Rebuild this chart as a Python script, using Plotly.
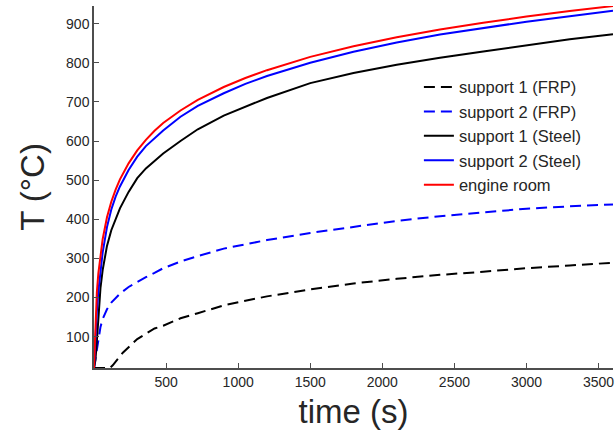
import plotly.graph_objects as go

# ---- data ----
time_s = [0, 10, 20, 30, 45, 60, 90, 120, 150, 180, 240, 300, 360, 420, 480, 600, 720,
          900, 1050, 1200, 1500, 1800, 2100, 2400, 2700, 3000, 3300, 3600]

engine_room = [20, 147, 215, 261, 311, 349, 405, 445, 476, 502, 543, 576, 603, 626, 646,
               678, 705, 738, 761, 781, 815, 842, 865, 885, 902, 918, 932, 945]
support2_steel = [20, 100, 165, 215, 270, 315, 380, 425, 458, 484, 526, 560, 587, 608,
                  627, 662, 690, 722, 746, 766, 800, 828, 852, 872, 889, 905, 919, 933]
support1_steel = [20, 40, 90, 140, 225, 270, 332, 372, 402, 428, 470, 505, 530, 549,
                  568, 600, 630, 665, 688, 710, 748, 774, 795, 813, 829, 845, 860, 873]
support2_frp = [20, 45, 75, 97, 125, 145, 170, 187, 200, 210, 227, 240, 252, 263, 275,
                292, 306, 325, 336, 347, 365, 381, 396, 408, 418, 427, 433, 438]

time_frp1 = [0, 60, 110, 130, 160, 200, 300, 360, 420, 480, 600, 720, 900, 1050, 1200,
             1500, 1800, 2100, 2400, 2700, 3000, 3300, 3600]
support1_frp = [20, 20, 20, 27, 42, 59, 94, 108, 121, 128, 147, 160, 180, 192, 203,
                221, 236, 248, 258, 266, 275, 282, 289]

x_ticks = [500, 1000, 1500, 2000, 2500, 3000, 3500]
y_ticks = [100, 200, 300, 400, 500, 600, 700, 800, 900]

FONT = "Liberation Sans, Arial, Helvetica, sans-serif"
DASH = "11px,6px"

fig = go.Figure()
series = [
    ("support 1 (FRP)", time_frp1, support1_frp, "#000000", DASH),
    ("support 2 (FRP)", time_s, support2_frp, "#0000FF", DASH),
    ("support 1 (Steel)", time_s, support1_steel, "#000000", "solid"),
    ("support 2 (Steel)", time_s, support2_steel, "#0000FF", "solid"),
    ("engine room", time_s, engine_room, "#FF0000", "solid"),
]
for name, xs, ys, col, dash in series:
    fig.add_trace(go.Scatter(
        x=xs, y=ys, mode="lines", name=name,
        line=dict(color=col, width=2, dash=dash, shape="linear"),
    ))

axis_common = dict(
    showgrid=False, zeroline=False, showline=True, linecolor="#4d4d4d", linewidth=1.5,
    ticks="inside", ticklen=5, tickwidth=1.2, tickcolor="#4d4d4d",
    tickfont=dict(family=FONT, size=14, color="#262626"),
    mirror=False,
)

fig.update_layout(
    width=616, height=432,
    margin=dict(l=94, r=3, t=6, b=64),
    paper_bgcolor="white", plot_bgcolor="white",
    font=dict(family=FONT, color="#262626"),
    showlegend=True,
    legend=dict(
        x=0.626, y=0.824, xanchor="left", yanchor="top",
        bgcolor="rgba(0,0,0,0)", borderwidth=0,
        font=dict(family=FONT, size=16.5, color="#262626"),
        tracegroupgap=0,
    ),
    xaxis=dict(range=[0, 3600], tickvals=x_ticks,
               title=dict(text="time (s)", font=dict(family=FONT, size=33, color="#262626"), standoff=11),
               **axis_common),
    yaxis=dict(range=[20, 945], tickvals=y_ticks,
               title=dict(text="T (°C)", font=dict(family=FONT, size=33, color="#262626"), standoff=12),
               **axis_common),
)

fig.write_html("out.html")
